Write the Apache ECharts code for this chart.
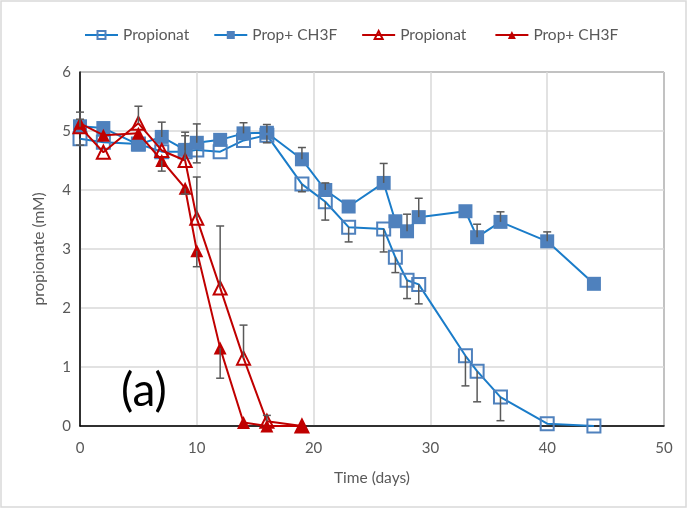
<!DOCTYPE html>
<html>
<head>
<meta charset="utf-8">
<script src="https://cdn.jsdelivr.net/npm/echarts@6/dist/echarts.min.js"></script>
<style>
  html, body { margin: 0; padding: 0; background: #fff; }
  #chart { width: 688px; height: 509px; }
</style>
</head>
<body>
<div id="chart"></div>
<script>
// Sampling days for the two blue series (Propionat / Prop+ CH3F, long run)
const blueDays = [0, 2, 5, 7, 9, 10, 12, 14, 16, 19, 21, 23, 26, 27, 28, 29, 33, 34, 36, 40, 44];
const blueOpen = [4.87, 4.81, 4.78, 4.65, 4.65, 4.68, 4.65, 4.84, 4.93, 4.10, 3.80, 3.37, 3.34, 2.86, 2.47, 2.40, 1.19, 0.93, 0.49, 0.04, 0.00];
const blueOpenErrMinus = [0.11, 0, 0, 0, 0, 0.22, 0, 0, 0.13, 0.13, 0.31, 0.25, 0.39, 0.26, 0.31, 0.33, 0.51, 0.52, 0.40, 0, 0];
const blueFilled = [5.08, 5.05, 4.77, 4.90, 4.68, 4.80, 4.85, 4.96, 4.97, 4.52, 4.00, 3.72, 4.12, 3.47, 3.30, 3.54, 3.64, 3.20, 3.46, 3.13, 2.41];
const blueFilledErrPlus = [0.12, 0, 0, 0.25, 0.30, 0.32, 0, 0.18, 0.14, 0.20, 0.12, 0, 0.33, 0, 0.29, 0.32, 0, 0.22, 0.17, 0.16, 0];

// Sampling days for the two red series (short run)
const redDays = [0, 2, 5, 7, 9, 10, 12, 14, 16, 19];
const redOpen = [5.07, 4.64, 5.13, 4.67, 4.50, 3.52, 2.34, 1.15, 0.08, 0.00];
const redOpenErrPlus = [0.25, 0, 0.29, 0, 0.42, 0.70, 1.05, 0.56, 0.10, 0];
const redFilled = [5.13, 4.93, 4.96, 4.50, 4.03, 2.97, 1.32, 0.06, 0.00, 0.00];
const redFilledErrMinus = [0, 0, 0, 0.18, 0.10, 0.27, 0.51, 0, 0, 0];

const seriesNames = ['Propionat', 'Prop+ CH3F', 'Propionat ', 'Prop+ CH3F '];
const xTicks = { min: 0, max: 50, step: 10 };
const yTicks = { min: 0, max: 6, step: 1 };

const FONT = 'Lato, "Open Sans", sans-serif';
const BLUE_LINE = '#1a7cc9';
const BLUE_MARK = '#4f81bd';
const RED = '#c00000';
const GREY_TEXT = '#595959';

function pairs(xs, ys) { return xs.map((x, i) => [x, ys[i]]); }

// Error bar rows: [x, y, y end]
function errRows(xs, ys, errs, sign) {
  const out = [];
  xs.forEach((x, i) => {
    if (errs[i] > 0) out.push([x, ys[i], ys[i] + sign * errs[i]]);
  });
  return out;
}

function renderErr(params, api) {
  const p0 = api.coord([api.value(0), api.value(1)]);
  const p1 = api.coord([api.value(0), api.value(2)]);
  const cap = 4;
  const style = { stroke: '#595959', lineWidth: 1.5, fill: null };
  return {
    type: 'group',
    children: [
      { type: 'line', shape: { x1: p0[0], y1: p0[1], x2: p1[0], y2: p1[1] }, style },
      { type: 'line', shape: { x1: p1[0] - cap, y1: p1[1], x2: p1[0] + cap, y2: p1[1] }, style }
    ]
  };
}

const errData = [].concat(
  errRows(blueDays, blueOpen, blueOpenErrMinus, -1),
  errRows(blueDays, blueFilled, blueFilledErrPlus, 1),
  errRows(redDays, redOpen, redOpenErrPlus, 1),
  errRows(redDays, redFilled, redFilledErrMinus, -1)
);

const chart = echarts.init(document.getElementById('chart'), null, { renderer: 'canvas' });

chart.setOption({
  animation: false,
  backgroundColor: '#fff',
  textStyle: { fontFamily: FONT },
  legend: {
    top: 22,
    left: 79,
    itemWidth: 33,
    itemHeight: 10,
    itemGap: 24,
    textStyle: { color: GREY_TEXT, fontSize: 15.5, fontFamily: FONT },
    data: seriesNames
  },
  grid: {
    left: 80, right: 24, top: 72, bottom: 83,
    show: true, borderColor: '#000', borderWidth: 1
  },
  xAxis: {
    type: 'value',
    min: xTicks.min, max: xTicks.max, interval: xTicks.step,
    name: 'Time (days)',
    nameLocation: 'middle',
    nameGap: 44,
    nameTextStyle: { color: GREY_TEXT, fontSize: 15.5, fontFamily: FONT },
    axisLine: { show: true, lineStyle: { color: '#000', width: 1.5 } },
    axisTick: { show: false },
    axisLabel: { color: GREY_TEXT, fontSize: 15, margin: 15, fontFamily: FONT },
    splitLine: { show: true, lineStyle: { color: '#d9d9d9', width: 1.5 } }
  },
  yAxis: {
    type: 'value',
    min: yTicks.min, max: yTicks.max, interval: yTicks.step,
    name: 'propionate (mM)',
    nameLocation: 'middle',
    nameGap: 33,
    nameTextStyle: { color: GREY_TEXT, fontSize: 15.5, fontFamily: FONT },
    axisLine: { show: true, lineStyle: { color: '#000', width: 1.5 } },
    axisTick: { show: false },
    axisLabel: { color: GREY_TEXT, fontSize: 15, margin: 9, fontFamily: FONT },
    splitLine: { show: true, lineStyle: { color: '#d9d9d9', width: 1.5 } }
  },
  series: [
    {
      name: seriesNames[0], type: 'line', data: pairs(blueDays, blueOpen),
      symbol: 'rect', symbolSize: 13,
      lineStyle: { color: BLUE_LINE, width: 2 },
      itemStyle: { color: 'rgba(255,255,255,0)', borderColor: BLUE_MARK, borderWidth: 2 },
      z: 3
    },
    {
      name: seriesNames[1], type: 'line', data: pairs(blueDays, blueFilled),
      symbol: 'rect', symbolSize: 14,
      lineStyle: { color: BLUE_LINE, width: 2 },
      itemStyle: { color: BLUE_MARK, borderColor: BLUE_MARK, borderWidth: 0 },
      z: 4
    },
    {
      name: seriesNames[2], type: 'line', data: pairs(redDays, redOpen),
      symbol: 'triangle', symbolSize: 13,
      lineStyle: { color: RED, width: 2 },
      itemStyle: { color: 'rgba(255,255,255,0)', borderColor: RED, borderWidth: 2 },
      z: 5
    },
    {
      name: seriesNames[3], type: 'line', data: pairs(redDays, redFilled),
      symbol: 'triangle', symbolSize: 13,
      lineStyle: { color: RED, width: 2 },
      itemStyle: { color: RED, borderColor: RED, borderWidth: 0 },
      z: 6
    },
    {
      type: 'custom', name: 'err', data: errData,
      renderItem: renderErr, silent: true, z: 7,
      encode: { x: 0, y: [1, 2] }
    }
  ],
  graphic: [
    {
      type: 'rect', silent: true,
      shape: { x: 1, y: 1, width: 685, height: 506 },
      style: { fill: null, stroke: '#d9d9d9', lineWidth: 1.5 }
    },
    {
      type: 'text', left: 121, top: 368,
      style: { text: '(a)', fill: '#000', font: '46px ' + FONT }
    }
  ]
});
</script>
</body>
</html>
